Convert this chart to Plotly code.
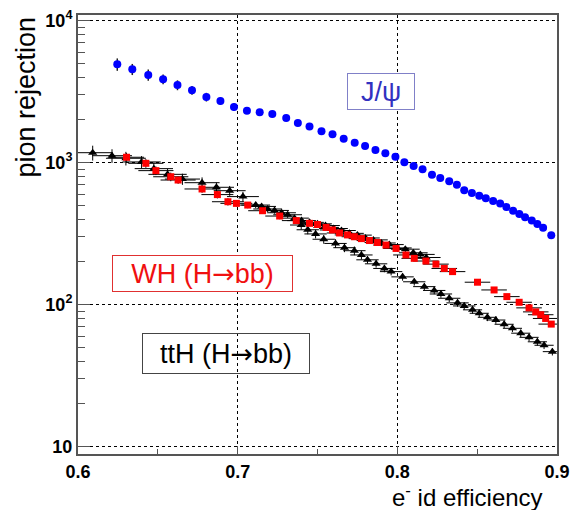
import plotly.graph_objects as go

# ---------------- data ----------------
# J/psi (blue circles)
x_jpsi = [0.6246, 0.634, 0.644, 0.6533, 0.6623, 0.6714, 0.6804, 0.6892, 0.6977, 0.7058,
          0.7138, 0.7217, 0.7304, 0.7377, 0.745, 0.7525, 0.7594, 0.7664, 0.7733, 0.7798,
          0.7863, 0.7925, 0.7988, 0.8044, 0.8102, 0.8158, 0.8217, 0.8269, 0.8325, 0.8373,
          0.8419, 0.8467, 0.8513, 0.8554, 0.86, 0.8644, 0.8683, 0.8725, 0.8764, 0.88,
          0.8842, 0.8877, 0.8913, 0.8964]
y_jpsi = [4930, 4550, 4150, 3870, 3520, 3235, 2900, 2720, 2470, 2322,
          2263, 2203, 2065, 1905, 1795, 1665, 1585, 1475, 1384, 1312,
          1228, 1164, 1100, 1008, 948, 899, 823, 780, 739, 700,
          639, 612, 586, 562, 538, 515, 487, 459, 436, 412,
          391, 370, 348, 308]
ey_jpsi_rel = [0.10, 0.09, 0.09, 0.08, 0.08, 0.07, 0.07, 0.06, 0.06, 0.05,
               0.05, 0.05, 0.045, 0.045, 0.04, 0.04, 0.04, 0.035, 0.035, 0.035,
               0.03, 0.03, 0.03, 0.03, 0.03, 0.025, 0.025, 0.025, 0.025, 0.025,
               0.02, 0.02, 0.02, 0.02, 0.02, 0.02, 0.02, 0.02, 0.02, 0.02,
               0.02, 0.02, 0.02, 0.02]

# ttH (H->bb) (black triangles)
x_tth = [0.6092, 0.6213, 0.630, 0.6398, 0.6475, 0.6561, 0.6654, 0.6777, 0.6867, 0.695, 0.7033,
         0.7113, 0.715, 0.7188, 0.7231, 0.7275, 0.7313, 0.7356, 0.74, 0.745, 0.75,
         0.755, 0.76, 0.765, 0.77, 0.775, 0.78, 0.785, 0.79, 0.795, 0.8,
         0.805, 0.81, 0.8144, 0.8181,
         0.7398, 0.7439, 0.7488, 0.7539, 0.7613, 0.7669, 0.7731, 0.7775, 0.7813, 0.7867,
         0.7919, 0.7961, 0.8033, 0.8106, 0.8169, 0.8231, 0.8273, 0.8325, 0.8377, 0.8419,
         0.8471, 0.8513, 0.8564, 0.8617, 0.8669, 0.8721, 0.8773, 0.8825, 0.8877, 0.8919,
         0.8971]
y_tth = [1176, 1120, 1074, 1012, 908, 828, 767, 723, 671, 635, 577,
         503, 492, 472, 461, 444, 430, 407, 391, 380, 371,
         361, 344, 333, 318, 309, 295, 286, 272, 265, 251,
         246, 232, 226, 215,
         364, 337, 315, 289, 270, 252, 240, 224, 207, 194,
         180, 171, 157, 145, 134, 126, 119, 111, 103, 98,
         92, 87, 81.5, 78, 72.8, 68.2, 63, 58.9, 54.8, 51.8,
         46.7]
ex_tth = [0.0125, 0.0125, 0.0125, 0.012, 0.012, 0.012, 0.011, 0.011, 0.011, 0.01, 0.01,
          0.009, 0.009, 0.009, 0.009, 0.009, 0.009, 0.009, 0.009, 0.009, 0.009,
          0.009, 0.009, 0.009, 0.009, 0.009, 0.009, 0.009, 0.009, 0.009, 0.009,
          0.009, 0.009, 0.009, 0.009,
          0.007, 0.007, 0.007, 0.007, 0.007, 0.007, 0.007, 0.007, 0.007, 0.007,
          0.007, 0.007, 0.007, 0.007, 0.007, 0.007, 0.007, 0.007, 0.007, 0.007,
          0.006, 0.006, 0.006, 0.006, 0.006, 0.006, 0.006, 0.006, 0.006, 0.006,
          0.006]
ey_tth_rel = [0.12, 0.11, 0.11, 0.10, 0.10, 0.09, 0.09, 0.09, 0.08, 0.08, 0.08,
              0.05, 0.05, 0.05, 0.05, 0.05, 0.05, 0.05, 0.05, 0.05, 0.05,
              0.05, 0.05, 0.05, 0.05, 0.05, 0.05, 0.05, 0.05, 0.05, 0.05,
              0.05, 0.05, 0.05, 0.05,
              0.07, 0.07, 0.07, 0.07, 0.07, 0.07, 0.07, 0.07, 0.06, 0.06,
              0.06, 0.06, 0.06, 0.06, 0.06, 0.06, 0.06, 0.06, 0.06, 0.06,
              0.06, 0.06, 0.06, 0.06, 0.06, 0.06, 0.06, 0.06, 0.06, 0.06,
              0.06]

# WH (H->bb) (red squares)
x_wh = [0.6304, 0.6425, 0.6488, 0.6581, 0.6627, 0.6777, 0.6873, 0.6939, 0.6992, 0.7063,
        0.7156, 0.7263, 0.7367, 0.745, 0.75, 0.7554, 0.7594, 0.7638, 0.7688, 0.7731,
        0.7775, 0.7825, 0.7875, 0.7929, 0.7992, 0.8054, 0.8106, 0.8179, 0.8242, 0.8294,
        0.8346, 0.8502, 0.8606, 0.8686, 0.8763, 0.8825, 0.8867, 0.8898, 0.8929, 0.8964]
y_wh = [1092, 990, 879, 796, 755, 653, 596, 531, 517, 503,
        459, 421, 391, 374, 367, 350, 336, 320, 310, 301,
        292, 283, 274, 263, 249, 224, 212, 203, 193, 180,
        171, 144, 127, 114, 104, 95, 89, 85, 80, 73]
ex_wh = [0.011, 0.011, 0.011, 0.011, 0.011, 0.011, 0.01, 0.01, 0.01, 0.009,
         0.009, 0.009, 0.009, 0.008, 0.008, 0.008, 0.008, 0.008, 0.008, 0.008,
         0.008, 0.008, 0.008, 0.008, 0.008, 0.008, 0.008, 0.008, 0.008, 0.008,
         0.008, 0.008, 0.008, 0.008, 0.008, 0.008, 0.008, 0.008, 0.008, 0.008]
ey_wh_rel = [0.07, 0.07, 0.07, 0.07, 0.06, 0.06, 0.06, 0.06, 0.05, 0.05,
             0.05, 0.05, 0.04, 0.04, 0.04, 0.04, 0.04, 0.04, 0.04, 0.04,
             0.04, 0.04, 0.04, 0.04, 0.04, 0.04, 0.04, 0.04, 0.04, 0.04,
             0.04, 0.04, 0.04, 0.04, 0.04, 0.04, 0.04, 0.04, 0.04, 0.04]

x_ticks = [0.6, 0.7, 0.8, 0.9]
x_ticklabels = ["0.6", "0.7", "0.8", "0.9"]
y_ticks = [10, 100, 1000, 10000]
y_ticklabels = ["10", "10<sup>2</sup>", "10<sup>3</sup>", "10<sup>4</sup>"]

# ---------------- figure ----------------
fig = go.Figure()

def errs(ys, rel):
    return [y * r for y, r in zip(ys, rel)]

fig.add_trace(go.Scatter(
    x=x_tth, y=y_tth, mode="markers",
    marker=dict(symbol="triangle-up", size=8, color="black"),
    error_x=dict(type="data", array=ex_tth, color="black", thickness=1, width=0),
    error_y=dict(type="data", array=errs(y_tth, ey_tth_rel), color="black", thickness=1, width=0),
    showlegend=False))

fig.add_trace(go.Scatter(
    x=x_wh, y=y_wh, mode="markers",
    marker=dict(symbol="square", size=7, color="#ff0000"),
    error_x=dict(type="data", array=ex_wh, color="black", thickness=1, width=0),
    error_y=dict(type="data", array=errs(y_wh, ey_wh_rel), color="black", thickness=1, width=0),
    showlegend=False))

fig.add_trace(go.Scatter(
    x=x_jpsi, y=y_jpsi, mode="markers",
    marker=dict(symbol="circle", size=8, color="#0000ff"),
    error_y=dict(type="data", array=errs(y_jpsi, ey_jpsi_rel), color="#222222", thickness=1.5, width=0),
    showlegend=False))

tickfont = dict(family="Liberation Sans", size=18, color="black", weight="bold")

fig.update_xaxes(
    range=[0.6, 0.9], tickvals=x_ticks, ticktext=x_ticklabels, automargin=False,
    ticks="inside", ticklen=8, tickcolor="#555", tickwidth=1,
    minor=dict(dtick=0.05, ticks="inside", ticklen=5, tickcolor="#555", showgrid=False),
    showgrid=True, gridcolor="black", griddash="dot", gridwidth=1,
    showline=True, linecolor="#555", linewidth=2, mirror=True,
    zeroline=False, tickfont=tickfont)

fig.update_yaxes(
    type="log", range=[0.9486, 4.040], tickvals=y_ticks, ticktext=y_ticklabels, automargin=False,
    ticks="inside", ticklen=12, tickcolor="#555", tickwidth=1,
    minor=dict(dtick="D1", ticks="inside", ticklen=7, tickcolor="#555", showgrid=False),
    showgrid=True, gridcolor="black", griddash="dot", gridwidth=1,
    showline=True, linecolor="#555", linewidth=2, mirror=True,
    zeroline=False, tickfont=tickfont)

arrow = "<span style='font-family:DejaVu Sans'>→</span>"

annotations = [
    dict(text="pion rejection", xref="paper", yref="paper", x=-0.1106, y=1.0,
         xanchor="center", yanchor="top", textangle=-90, showarrow=False,
         font=dict(family="Liberation Sans", size=27, color="black")),
    dict(text="e<sup>-</sup> id efficiency", xref="paper", yref="paper", x=0.975, y=-0.096,
         xanchor="right", yanchor="middle", showarrow=False,
         font=dict(family="Liberation Sans", size=24, color="black")),
    dict(text="J/ψ", xref="paper", yref="paper", x=0.6326, y=0.8257,
         xanchor="center", yanchor="middle", showarrow=False,
         width=66, height=35, borderpad=0, bordercolor="#8080c8", borderwidth=1,
         bgcolor="white",
         font=dict(family="Liberation Sans", size=27, color="#3232c0")),
    dict(text="WH (H" + arrow + "bb)", xref="paper", yref="paper", x=0.2593, y=0.4116,
         xanchor="center", yanchor="middle", showarrow=False,
         width=179, height=35, borderpad=0, bordercolor="#e03030", borderwidth=1,
         bgcolor="white",
         font=dict(family="Liberation Sans", size=27, color="#f01010")),
    dict(text="ttH (H" + arrow + "bb)", xref="paper", yref="paper", x=0.308, y=0.230,
         xanchor="center", yanchor="middle", showarrow=False,
         width=166, height=39, borderpad=0, bordercolor="#444444", borderwidth=1,
         bgcolor="rgba(255,255,255,0)",
         font=dict(family="Liberation Sans", size=27, color="black")),
]

fig.update_layout(
    width=570, height=510,
    margin=dict(l=78, r=13, t=15, b=56),
    paper_bgcolor="white", plot_bgcolor="white",
    annotations=annotations,
)

fig.write_html("out.html")
